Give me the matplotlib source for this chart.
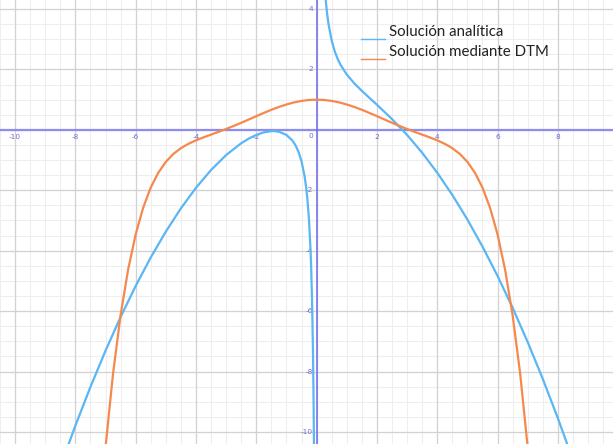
import matplotlib
matplotlib.use("Agg")
import matplotlib.pyplot as plt
import numpy as np

# ---- data ----
series_names = ["Solución analítica", "Solución mediante DTM"]

# analytic solution, left branch (x < 0)
ana_left_x = [-8.5, -8.0, -7.5, -7.0, -6.5, -6.0, -5.5, -5.0, -4.5, -4.0, -3.5, -3.0,
              -2.5, -2.25, -2.0, -1.75, -1.5, -1.4, -1.25, -1.0, -0.8, -0.7, -0.6, -0.5,
              -0.4, -0.35, -0.3, -0.25, -0.2, -0.18, -0.15, -0.12, -0.1, -0.08]
ana_left_y = [-11.159, -9.792, -8.508, -7.310, -6.196, -5.167, -4.223, -3.367, -2.597,
              -1.917, -1.327, -0.833, -0.442, -0.288, -0.167, -0.082, -0.042, -0.041,
              -0.060, -0.167, -0.357, -0.510, -0.727, -1.042, -1.527, -1.878, -2.348,
              -3.010, -4.007, -4.561, -5.670, -7.336, -9.002, -11.501]

# analytic solution, right branch (x > 0)
ana_right_x = [0.2, 0.22, 0.25, 0.3, 0.35, 0.4, 0.5, 0.6, 0.7, 0.8, 1.0, 1.25, 1.5, 1.75,
               2.0, 2.5, 3.0, 3.5, 4.0, 4.5, 5.0, 5.5, 6.0, 6.5, 7.0, 7.5, 8.0, 8.5]
ana_right_y = [5.993, 5.537, 4.990, 4.318, 3.837, 3.473, 2.958, 2.607, 2.347, 2.143,
               1.833, 1.540, 1.292, 1.061, 0.833, 0.358, -0.167, -0.756, -1.417, -2.153,
               -2.967, -3.860, -4.833, -5.888, -7.024, -8.242, -9.542, -10.924]

# DTM solution
dtm_x = [-7.25, -7.0, -6.75, -6.5, -6.25, -6.0, -5.75, -5.5, -5.25, -5.0, -4.75, -4.5,
         -4.25, -4.0, -3.75, -3.5, -3.25, -3.0, -2.75, -2.5, -2.25, -2.0, -1.75, -1.5,
         -1.25, -1.0, -0.75, -0.5, -0.25, 0.0, 0.25, 0.5, 0.75, 1.0, 1.25, 1.5, 1.75,
         2.0, 2.25, 2.5, 2.75, 3.0, 3.25, 3.5, 3.75, 4.0, 4.25, 4.5, 4.75, 5.0, 5.25,
         5.5, 5.75, 6.0, 6.25, 6.5, 6.75, 7.0, 7.25]
dtm_y = [-13.55, -10.501, -8.061, -6.130, -4.621, -3.457, -2.572, -1.908, -1.418, -1.059,
         -0.797, -0.605, -0.461, -0.346, -0.248, -0.156, -0.065, 0.030, 0.130, 0.235,
         0.344, 0.454, 0.562, 0.665, 0.759, 0.841, 0.909, 0.959, 0.990, 1.0, 0.990,
         0.959, 0.909, 0.841, 0.759, 0.665, 0.562, 0.454, 0.344, 0.235, 0.130, 0.030,
         -0.065, -0.156, -0.248, -0.346, -0.461, -0.605, -0.797, -1.059, -1.418,
         -1.908, -2.572, -3.457, -4.621, -6.130, -8.061, -10.501, -13.55]

x_tick_values = [-10, -8, -6, -4, -2, 2, 4, 6, 8]
y_tick_values = [4, 2, -2, -4, -6, -8, -10]

# ---- figure ----
fig = plt.figure(figsize=(6.13, 4.44), dpi=100)
ax = fig.add_axes([0, 0, 1, 1])
ax.set_xlim(-10.50, 9.83)
ax.set_ylim(-10.40, 4.30)
for s in ax.spines.values():
    s.set_visible(False)
ax.set_xticks([])
ax.set_yticks([])

# grid
minor = np.arange(-12, 12.01, 0.5)
major = np.arange(-12, 12.01, 2)
for v in minor:
    ax.axvline(v, color="#eeeeee", lw=0.8, zorder=0)
    ax.axhline(v, color="#eeeeee", lw=0.8, zorder=0)
for v in major:
    ax.axvline(v, color="#d2d2d2", lw=0.9, zorder=0.5)
    ax.axhline(v, color="#d2d2d2", lw=0.9, zorder=0.5)

# axes lines
ax.axhline(0, color="#8c8cf2", lw=1.6, zorder=1)
ax.axvline(0, color="#6a6aee", lw=1.1, zorder=1)

# tick labels
lab_col = "#6f6fd8"
for v in x_tick_values:
    ax.text(v, -0.23, str(v).replace("-", "-"), color=lab_col, fontsize=5.3,
            ha="center", va="center", zorder=2)
for v in y_tick_values:
    ax.text(-0.12, v, str(v), color=lab_col, fontsize=5.3,
            ha="right", va="center", zorder=2)
ax.text(-0.19, -0.21, "0", color=lab_col, fontsize=5.3, ha="center", va="center", zorder=2)

blue = "#5ab6f4"
orange = "#f5894d"
ax.plot(ana_left_x, ana_left_y, color=blue, lw=1.6, zorder=3, solid_capstyle="round")
ax.plot(ana_right_x, ana_right_y, color=blue, lw=1.6, zorder=3, solid_capstyle="round")
ax.plot(dtm_x, dtm_y, color=orange, lw=1.6, zorder=4, solid_capstyle="round")

# legend (manual, handles sit low beside text)
W, H = 613.0, 444.0
def fx(px):
    return px / W
def fy(py):
    return 1 - py / H
for i, (name, col) in enumerate(zip(series_names, [blue, orange])):
    ly = 39.5 + 20 * i
    ty = 32.5 + 20 * i
    ax.plot([fx(361), fx(385)], [fy(ly), fy(ly)], transform=ax.transAxes,
            color=col, lw=1.0, zorder=5)
    ax.text(fx(389), fy(ty), name, transform=ax.transAxes, fontsize=10.8,
            family=["Lato", "DejaVu Sans"], color="#222222", ha="left", va="center", zorder=5)

fig.savefig("out.png", dpi=100)
